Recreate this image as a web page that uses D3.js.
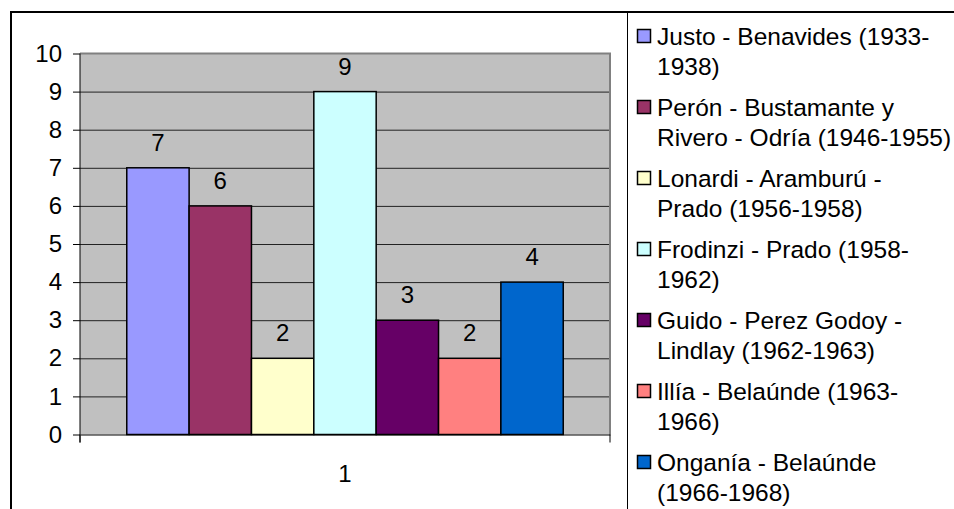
<!DOCTYPE html>
<html>
<head>
<meta charset="utf-8">
<script src="https://cdn.jsdelivr.net/npm/d3@7"></script>
<style>
  body { margin: 0; background: #fff; }
  svg { display: block; font-family: "Liberation Sans", Arial, sans-serif; }
</style>
</head>
<body>
<svg id="chart" width="954" height="509"></svg>
<script>
// chart data
const categories = ["1"];
const seriesNames = [
	"Justo - Benavides (1933-\n1938)",
	"Perón - Bustamante y\nRivero - Odría (1946-1955)",
	"Lonardi - Aramburú -\nPrado (1956-1958)",
	"Frodinzi - Prado (1958-\n1962)",
	"Guido - Perez Godoy -\nLindlay (1962-1963)",
	"Illía - Belaúnde (1963-\n1966)",
	"Onganía - Belaúnde\n(1966-1968)"
];
const seriesValues = [7, 6, 2, 9, 3, 2, 4];
const seriesColors = ["#9999FF", "#993366", "#FFFFCC", "#CCFFFF", "#660066", "#FF8080", "#0066CC"];
const yTicks = [0, 1, 2, 3, 4, 5, 6, 7, 8, 9, 10];

const svg = d3.select("#chart");

// plot area box
const plot = { left: 80, right: 610, top: 53.5, bottom: 434.5 };

// outer frame (top and left edges visible)
svg.append("path")
	.attr("d", "M11,509 V12 H954")
	.attr("fill", "none")
	.attr("stroke", "#000")
	.attr("stroke-width", 2);

// legend box left border
svg.append("line")
	.attr("x1", 627.5).attr("x2", 627.5)
	.attr("y1", 12).attr("y2", 509)
	.attr("stroke", "#000");

// scales
const y = d3.scaleLinear().domain([0, 10]).range([plot.bottom, plot.top]);
const xCat = d3.scaleBand().domain(categories).range([plot.left, plot.right]);
const xSeries = d3.scaleBand()
	.domain(d3.range(seriesValues.length))
	.range([0, xCat.bandwidth()])
	.paddingInner(0)
	.paddingOuter(0.75);

// gray background
svg.append("rect")
	.attr("x", plot.left).attr("y", plot.top)
	.attr("width", plot.right - plot.left)
	.attr("height", plot.bottom - plot.top)
	.attr("fill", "#C0C0C0");

// gridlines
svg.append("g")
	.attr("transform", `translate(${plot.left},0)`)
	.call(d3.axisLeft(y).tickValues(yTicks.slice(1, -1)).tickSize(-(plot.right - plot.left)).tickFormat(""))
	.call(g => g.select(".domain").remove())
	.selectAll("line").attr("stroke", "#222");

// top and right border of the plot area
svg.append("path")
	.attr("d", `M${plot.left},${plot.top} H${plot.right} V${plot.bottom}`)
	.attr("fill", "none")
	.attr("stroke", "#808080")
	.attr("stroke-width", 2);

// bars
const bars = svg.append("g");
bars.selectAll("rect")
	.data(seriesValues)
	.join("rect")
	.attr("x", (d, i) => xCat(categories[0]) + xSeries(i))
	.attr("y", d => y(d))
	.attr("width", xSeries.bandwidth())
	.attr("height", d => y(0) - y(d))
	.attr("fill", (d, i) => seriesColors[i])
	.attr("stroke", "#000")
	.attr("stroke-width", 1.5);

// value labels
bars.selectAll("text")
	.data(seriesValues)
	.join("text")
	.attr("x", (d, i) => xCat(categories[0]) + xSeries(i) + xSeries.bandwidth() / 2)
	.attr("y", d => y(d) - 17)
	.attr("text-anchor", "middle")
	.attr("font-size", 24)
	.attr("fill", "#000")
	.text(d => d);

// y axis
const yAxis = svg.append("g")
	.attr("transform", `translate(${plot.left},0)`)
	.call(d3.axisLeft(y).tickValues(yTicks).tickSize(7).tickPadding(11).tickFormat(d3.format("d")));
yAxis.select(".domain").attr("d", `M0,${plot.top}V${plot.bottom + 8}`).attr("stroke", "#000");
yAxis.selectAll("line").attr("stroke", "#000");
yAxis.selectAll("text").attr("font-size", 24).attr("fill", "#000").attr("font-family", null);

// x axis
const xAxis = svg.append("g")
	.attr("transform", `translate(0,${plot.bottom})`)
	.call(d3.axisBottom(xCat).tickSize(0).tickPadding(30));
xAxis.select(".domain").attr("stroke", "#000");
xAxis.selectAll("text").attr("font-size", 24).attr("fill", "#000").attr("font-family", null);
xAxis.selectAll(".edge")
	.data(xCat.range())
	.join("line")
	.attr("class", "edge")
	.attr("x1", d => d).attr("x2", d => d)
	.attr("y1", 0).attr("y2", 8)
	.attr("stroke", "#000");

// legend
const legend = svg.append("g");
const item = legend.selectAll("g")
	.data(seriesNames)
	.join("g")
	.attr("transform", (d, i) => `translate(637,${29 + i * 71})`);
item.append("rect")
	.attr("x", 0.5).attr("y", 0.5)
	.attr("width", 13).attr("height", 13)
	.attr("fill", (d, i) => seriesColors[i])
	.attr("stroke", "#000")
	.attr("stroke-width", 1.5);
item.append("text")
	.attr("y", 16)
	.attr("font-size", 24.5)
	.attr("fill", "#000")
	.selectAll("tspan")
	.data(d => d.split("\n"))
	.join("tspan")
	.attr("x", 20)
	.attr("dy", (d, i) => i ? 29.5 : 0)
	.text(d => d);
</script>
</body>
</html>
